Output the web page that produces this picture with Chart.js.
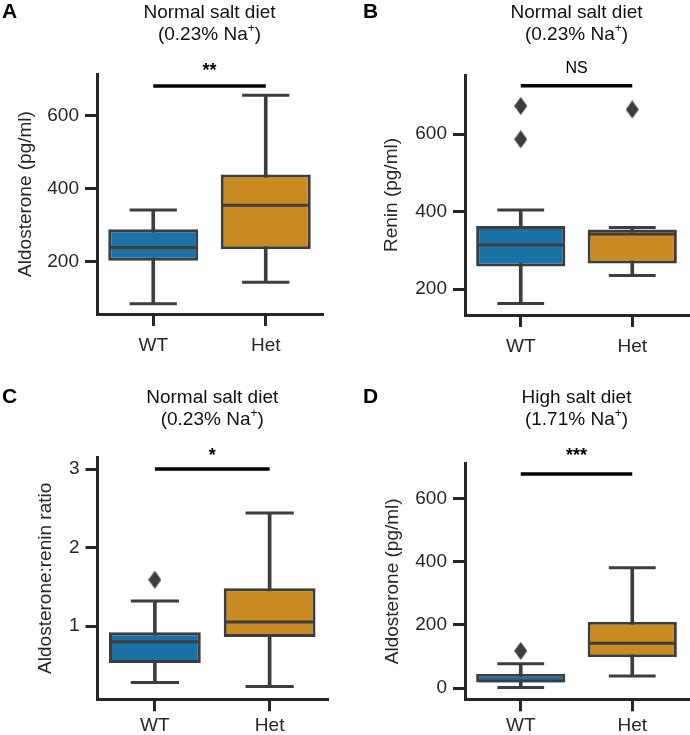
<!DOCTYPE html>
<html>
<head>
<meta charset="utf-8">
<script src="https://cdn.jsdelivr.net/npm/chart.js@4.4.1/dist/chart.umd.min.js"></script>
<style>
  body { margin: 0; background: #fff; }
  #fig { position: relative; width: 690px; height: 735px; overflow: hidden; }
  #fig canvas { position: absolute; }
</style>
</head>
<body>
<div id="fig">
  <canvas id="cA" width="345" height="370" style="left:0;top:0"></canvas>
  <canvas id="cB" width="345" height="370" style="left:345px;top:0"></canvas>
  <canvas id="cC" width="345" height="350" style="left:0;top:385px"></canvas>
  <canvas id="cD" width="345" height="350" style="left:345px;top:385px"></canvas>
</div>
<script>
// groups on the x axis
const groups = ['WT', 'Het'];

// A: aldosterone, normal salt diet
const aldoNormalLow = [85, 144];
const aldoNormalQ1 = [203, 234];
const aldoNormalMedian = [239, 355];
const aldoNormalQ3 = [289, 439];
const aldoNormalHigh = [342, 656];
const aldoNormalOutliers = [[], []];
const aldoNormalTicks = [200, 400, 600];

// B: renin, normal salt diet
const reninLow = [163, 235];
const reninQ1 = [258, 266];
const reninMedian = [314, 342];
const reninQ3 = [363, 354];
const reninHigh = [404, 359];
const reninOutliers = [[673, 587], [664]];
const reninTicks = [200, 400, 600];

// C: aldosterone:renin ratio, normal salt diet
const ratioLow = [0.28, 0.23];
const ratioQ1 = [0.53, 0.86];
const ratioMedian = [0.80, 1.05];
const ratioQ3 = [0.92, 1.48];
const ratioHigh = [1.32, 2.44];
const ratioOutliers = [[1.59], []];
const ratioTicks = [1, 2, 3];

// D: aldosterone, high salt diet
const aldoHighLow = [2, 39];
const aldoHighQ1 = [18, 98];
const aldoHighMedian = [24, 142];
const aldoHighQ3 = [46, 210];
const aldoHighHigh = [77, 381];
const aldoHighOutliers = [[118], []];
const aldoHighTicks = [0, 200, 400, 600];

const FONT = "'Liberation Sans', Arial, Helvetica, sans-serif";
const AXIS = '#262626';
const EDGE = '#3d3d3d';
const BOX_COLORS = ['#1a71a6', '#c88a21'];

Chart.defaults.font.family = FONT;
Chart.defaults.color = AXIS;

// thin diamond flier marker
const diamond = document.createElement('canvas');
diamond.width = 13; diamond.height = 18;
(function () {
  const c = diamond.getContext('2d');
  c.fillStyle = EDGE;
  c.beginPath();
  c.moveTo(6.5, 0); c.lineTo(13, 9); c.lineTo(6.5, 18); c.lineTo(0, 9);
  c.closePath(); c.fill();
})();

const annotPlugin = {
  id: 'annot',
  afterDraw(chart, args, o) {
    const ctx = chart.ctx;
    const ca = chart.chartArea;
    const cx = (ca.left + ca.right) / 2;
    ctx.save();
    // panel letter
    ctx.fillStyle = '#000';
    ctx.textAlign = 'left';
    ctx.textBaseline = 'alphabetic';
    ctx.font = 'bold 21px ' + FONT;
    ctx.fillText(o.letter, o.letterX, 18);
    // title
    ctx.fillStyle = '#111';
    ctx.font = '19px ' + FONT;
    ctx.textAlign = 'center';
    ctx.fillText(o.title, cx, 18);
    const a = '(' + o.sub + ' Na', b = ')';
    ctx.textAlign = 'left';
    const wa = ctx.measureText(a).width, wb = ctx.measureText(b).width;
    ctx.font = '12px ' + FONT;
    const wp = ctx.measureText('+').width;
    let x = cx - (wa + wp + wb) / 2;
    ctx.font = '19px ' + FONT;
    ctx.fillText(a, x, 40);
    ctx.font = '12px ' + FONT;
    ctx.fillText('+', x + wa, 32);
    ctx.font = '19px ' + FONT;
    ctx.fillText(b, x + wa + wp, 40);
    // significance bar
    const xs = chart.scales.x, ys = chart.scales.y;
    const y = ys.getPixelForValue(o.sig);
    ctx.strokeStyle = '#000';
    ctx.lineWidth = 3.5;
    ctx.beginPath();
    ctx.moveTo(xs.getPixelForValue(0), y);
    ctx.lineTo(xs.getPixelForValue(1), y);
    ctx.stroke();
    ctx.fillStyle = '#000';
    ctx.textAlign = 'center';
    ctx.font = (o.stars === 'NS' ? '16px ' : 'bold 18px ') + FONT;
    ctx.fillText(o.stars, cx, o.stars === 'NS' ? 73 : 76);
    ctx.restore();
  }
};

function makeBox(id, lay, d) {
  const canvas = document.getElementById(id);
  const slot = (lay.right - lay.left) / groups.length;
  const capPoints = [];
  const outlierPoints = [];
  groups.forEach((g, i) => {
    capPoints.push({ x: g, y: d.low[i] }, { x: g, y: d.high[i] });
    d.outliers[i].forEach(v => outlierPoints.push({ x: g, y: v }));
  });
  return new Chart(canvas, {
    type: 'bar',
    data: {
      labels: groups,
      datasets: [
        {
          // whiskers
          type: 'bar',
          data: groups.map((g, i) => [d.low[i], d.high[i]]),
          backgroundColor: EDGE,
          barThickness: 3,
          grouped: false,
          order: 4
        },
        {
          // boxes
          type: 'bar',
          data: groups.map((g, i) => [d.q1[i], d.q3[i]]),
          backgroundColor: BOX_COLORS,
          borderColor: EDGE,
          borderWidth: 3,
          borderSkipped: false,
          categoryPercentage: 0.8,
          barPercentage: 1,
          grouped: false,
          order: 3
        },
        {
          // medians
          type: 'line',
          data: d.median,
          showLine: false,
          pointStyle: 'line',
          pointRadius: slot * 0.4 - 2,
          pointBorderWidth: 3,
          pointBorderColor: EDGE,
          order: 2
        },
        {
          // whisker caps
          type: 'line',
          data: capPoints,
          showLine: false,
          pointStyle: 'line',
          pointRadius: slot * 0.21,
          pointBorderWidth: 3,
          pointBorderColor: EDGE,
          order: 1
        },
        {
          // fliers
          type: 'line',
          data: outlierPoints,
          showLine: false,
          pointStyle: diamond,
          pointRadius: 8,
          order: 0
        }
      ]
    },
    options: {
      responsive: false,
      animation: false,
      devicePixelRatio: 1,
      layout: {
        autoPadding: false,
        padding: { top: lay.top, right: canvas.width - lay.right, left: 0, bottom: 0 }
      },
      plugins: {
        legend: { display: false },
        tooltip: { enabled: false },
        annot: d.annot
      },
      scales: {
        x: {
          type: 'category',
          offset: true,
          grid: { drawOnChartArea: false, offset: false, tickLength: 12, lineWidth: 3, color: AXIS },
          border: { display: true, width: 3, color: AXIS },
          ticks: { color: AXIS, font: { size: 19 }, padding: lay.labelPad },
          afterFit: s => { s.height = canvas.height - lay.bottom; }
        },
        y: {
          type: 'linear',
          min: d.min,
          max: d.max,
          afterBuildTicks: s => { s.ticks = d.ticks.map(v => ({ value: v })); },
          grid: { drawOnChartArea: false, tickLength: 12, lineWidth: 3, color: AXIS },
          border: { display: true, width: 3, color: AXIS },
          ticks: { color: AXIS, font: { size: 19 }, padding: 6 },
          title: { display: true, text: d.label, color: AXIS, font: { size: 19 }, padding: { top: lay.titlePad, bottom: 0 } },
          afterFit: s => { s.width = lay.left; }
        }
      }
    },
    plugins: [annotPlugin]
  });
}

makeBox('cA', { left: 97, right: 322, top: 74, bottom: 314, titlePad: 14, labelPad: 8 }, {
  low: aldoNormalLow, q1: aldoNormalQ1, median: aldoNormalMedian, q3: aldoNormalQ3, high: aldoNormalHigh,
  outliers: aldoNormalOutliers, ticks: aldoNormalTicks, min: 57, max: 714,
  label: 'Aldosterone (pg/ml)',
  annot: { letter: 'A', letterX: 2, title: 'Normal salt diet', sub: '0.23%', sig: 681, stars: '**' }
});

makeBox('cB', { left: 120, right: 343, top: 75, bottom: 315, titlePad: 35, labelPad: 8 }, {
  low: reninLow, q1: reninQ1, median: reninMedian, q3: reninQ3, high: reninHigh,
  outliers: reninOutliers, ticks: reninTicks, min: 133, max: 753,
  label: 'Renin (pg/ml)',
  annot: { letter: 'B', letterX: 18, title: 'Normal salt diet', sub: '0.23%', sig: 725, stars: 'NS' }
});

makeBox('cC', { left: 97.5, right: 327, top: 72.3, bottom: 314.3, titlePad: 34, labelPad: 3 }, {
  low: ratioLow, q1: ratioQ1, median: ratioMedian, q3: ratioQ3, high: ratioHigh,
  outliers: ratioOutliers, ticks: ratioTicks, min: 0.066, max: 3.15,
  label: 'Aldosterone:renin ratio',
  annot: { letter: 'C', letterX: 2, title: 'Normal salt diet', sub: '0.23%', sig: 3.0, stars: '*' }
});

makeBox('cD', { left: 120, right: 343, top: 78.3, bottom: 314.3, titlePad: 36, labelPad: 3 }, {
  low: aldoHighLow, q1: aldoHighQ1, median: aldoHighMedian, q3: aldoHighQ3, high: aldoHighHigh,
  outliers: aldoHighOutliers, ticks: aldoHighTicks, min: -35, max: 711,
  label: 'Aldosterone (pg/ml)',
  annot: { letter: 'D', letterX: 18, title: 'High salt diet', sub: '1.71%', sig: 677, stars: '***' }
});
</script>
</body>
</html>
